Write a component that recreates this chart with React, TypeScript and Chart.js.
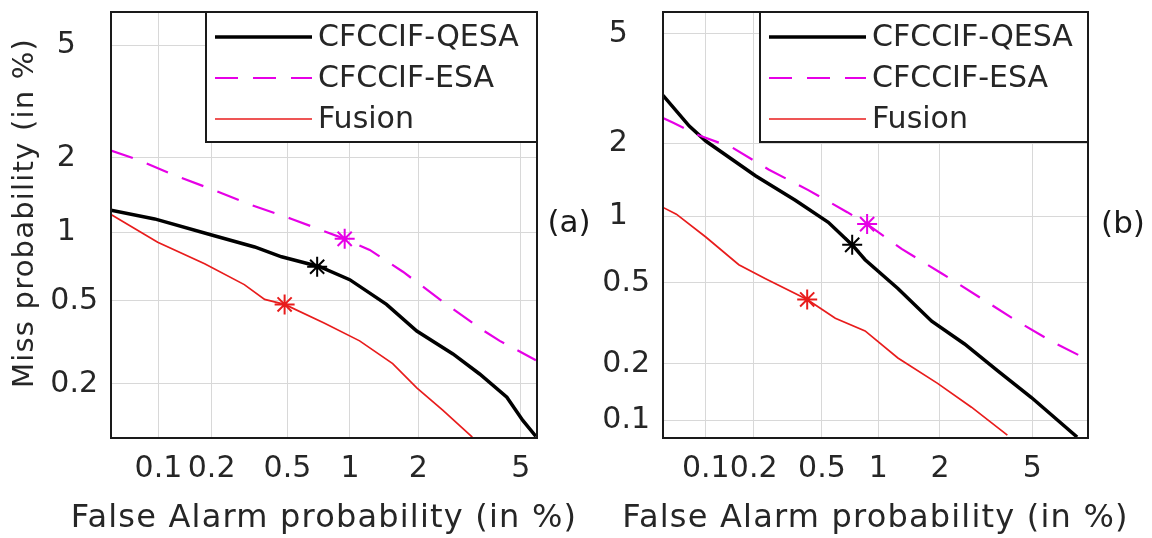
import React, { useEffect, useRef } from 'react';
import { Chart, Scale, registerables } from 'chart.js';

// ---------------- data (values in %) ----------------
const SERIES_NAMES = ['CFCCIF-QESA', 'CFCCIF-ESA', 'Fusion'];
const X_TITLE = 'False Alarm probability (in %)';
const Y_TITLE = 'Miss probability (in %)';
const X_TICKS = [0.1, 0.2, 0.5, 1, 2, 5];
const Y_TICKS_A = [0.2, 0.5, 1, 2, 5];
const Y_TICKS_B = [0.1, 0.2, 0.5, 1, 2, 5];

// panel (a)
const A_QESA_X = [0.052, 0.095, 0.2, 0.34, 0.467, 0.72, 0.997, 1.46, 1.97, 2.77, 3.52, 4.45, 5.08, 5.65];
const A_QESA_Y = [1.24, 1.14, 0.976, 0.868, 0.787, 0.712, 0.624, 0.482, 0.362, 0.281, 0.224, 0.171, 0.13, 0.107];
const A_ESA_X = [0.052, 0.075, 0.124, 0.208, 0.327, 0.525, 0.72, 0.945, 1.23, 1.72, 2.52, 3.52, 4.19, 5.65];
const A_ESA_Y = [2.13, 1.97, 1.71, 1.49, 1.3, 1.14, 1.03, 0.94, 0.843, 0.677, 0.497, 0.374, 0.325, 0.262];
const A_FUS_X = [0.052, 0.099, 0.183, 0.3, 0.383, 0.484, 0.76, 1.107, 1.554, 1.97, 2.52, 3.3];
const A_FUS_Y = [1.19, 0.91, 0.734, 0.593, 0.508, 0.482, 0.394, 0.325, 0.252, 0.191, 0.147, 0.106];
const A_STAR_X = [0.7, 0.945, 0.484];
const A_STAR_Y = [0.712, 0.94, 0.482];

// panel (b)
const B_QESA_X = [0.052, 0.078, 0.1, 0.205, 0.353, 0.542, 0.73, 0.854, 1.255, 1.83, 2.59, 3.6, 4.96, 7.4];
const B_QESA_Y = [3.04, 2.33, 2.04, 1.48, 1.17, 0.94, 0.747, 0.64, 0.47, 0.327, 0.252, 0.184, 0.133, 0.081];
const B_ESA_X = [0.052, 0.061, 0.09, 0.148, 0.246, 0.419, 0.687, 0.875, 1.31, 2.04, 3.07, 4.35, 6.09, 7.97];
const B_ESA_Y = [2.5, 2.4, 2.15, 1.92, 1.57, 1.29, 1.04, 0.923, 0.716, 0.553, 0.422, 0.327, 0.255, 0.212];
const B_FUS_X = [0.052, 0.064, 0.1, 0.162, 0.236, 0.413, 0.592, 0.854, 1.255, 1.95, 2.78, 3.96];
const B_FUS_Y = [1.09, 1.02, 0.81, 0.607, 0.523, 0.417, 0.338, 0.293, 0.214, 0.158, 0.118, 0.083];
const B_STAR_X = [0.73, 0.875, 0.413];
const B_STAR_Y = [0.747, 0.923, 0.417];

// ---------------- probit scale ----------------
function probit(p: number): number {
  p = Math.min(Math.max(p, 1e-12), 1 - 1e-12);
  const a = [-3.969683028665376e1, 2.209460984245205e2, -2.759285104469687e2, 1.38357751867269e2, -3.066479806614716e1, 2.506628277459239];
  const b = [-5.447609879822406e1, 1.615858368580409e2, -1.556989798598866e2, 6.680131188771972e1, -1.328068155288572e1];
  const c = [-7.784894002430293e-3, -3.223964580411365e-1, -2.400758277161838, -2.549732539343734, 4.374664141464968, 2.938163982698783];
  const d = [7.784695709041462e-3, 3.224671290700398e-1, 2.445134137142996, 3.754408661907416];
  const plow = 0.02425;
  if (p < plow) {
    const q = Math.sqrt(-2 * Math.log(p));
    return (((((c[0] * q + c[1]) * q + c[2]) * q + c[3]) * q + c[4]) * q + c[5]) / ((((d[0] * q + d[1]) * q + d[2]) * q + d[3]) * q + 1);
  }
  if (p <= 1 - plow) {
    const q = p - 0.5;
    const r = q * q;
    return ((((((a[0] * r + a[1]) * r + a[2]) * r + a[3]) * r + a[4]) * r + a[5]) * q) / (((((b[0] * r + b[1]) * r + b[2]) * r + b[3]) * r + b[4]) * r + 1);
  }
  const q = Math.sqrt(-2 * Math.log(1 - p));
  return -(((((c[0] * q + c[1]) * q + c[2]) * q + c[3]) * q + c[4]) * q + c[5]) / ((((d[0] * q + d[1]) * q + d[2]) * q + d[3]) * q + 1);
}
function normCdf(z: number): number {
  const x = Math.abs(z) / Math.SQRT2;
  const t = 1 / (1 + 0.3275911 * x);
  const y = 1 - ((((1.061405429 * t - 1.453152027) * t + 1.421413741) * t - 0.284496736) * t + 0.254829592) * t * Math.exp(-x * x);
  return z >= 0 ? 0.5 * (1 + y) : 0.5 * (1 - y);
}

class ProbitScale extends Scale {
  static id = 'probit';
  static defaults = {};
  _zStart = 0;
  _zRange = 1;
  parse(raw: any) {
    const v = typeof raw === 'number' ? raw : Number(raw);
    return isFinite(v) ? v : null;
  }
  determineDataLimits() {
    (this as any).min = (this as any).options.min;
    (this as any).max = (this as any).options.max;
  }
  buildTicks() {
    return [];
  }
  configure() {
    super.configure();
    this._zStart = probit((this as any).min / 100);
    this._zRange = probit((this as any).max / 100) - this._zStart;
  }
  getLabelForValue(v: number) {
    return String(v);
  }
  getPixelForValue(v: number) {
    return (this as any).getPixelForDecimal((probit(v / 100) - this._zStart) / this._zRange);
  }
  getValueForPixel(px: number) {
    const dec = (this as any).getDecimalForPixel(px);
    return 100 * normCdf(this._zStart + dec * this._zRange);
  }
}

Chart.register(...registerables, ProbitScale as any);

// ---------------- drawing ----------------
const TEXT = '#262626';
const GRID = '#d8d8d8';
const FAMILY = "'DejaVu Sans', sans-serif";
const COLORS = ['#000000', 'rgb(230,0,230)', 'rgb(232,28,28)'];
const WIDTHS = [3.5, 2.2, 1.7];
const DASHES: number[][] = [[], [23, 15], []];

const decorPlugin = {
  id: 'decor',
  afterDraw(chart: any, _args: any, opts: any) {
    const { ctx } = chart;
    const { left, top, right, bottom } = chart.chartArea;
    ctx.save();
    ctx.strokeStyle = '#1a1a1a';
    ctx.lineWidth = 2;
    ctx.strokeRect(left, top, right - left, bottom - top);
    // legend box
    const bw = opts.legendWidth;
    const bx = right - bw;
    const by = top;
    const bh = 130;
    ctx.fillStyle = '#ffffff';
    ctx.fillRect(bx, by, bw, bh);
    ctx.strokeRect(bx, by, bw, bh);
    const lines = chart.data.datasets.filter((ds: any) => ds.showLine);
    lines.forEach((ds: any, i: number) => {
      const y = by + 25 + i * 41;
      ctx.beginPath();
      ctx.setLineDash(ds.borderDash || []);
      ctx.lineWidth = ds.borderWidth;
      ctx.strokeStyle = ds.borderColor;
      ctx.moveTo(bx + 9, y);
      ctx.lineTo(bx + 106, y);
      ctx.stroke();
      ctx.setLineDash([]);
      ctx.fillStyle = TEXT;
      ctx.font = `30px ${FAMILY}`;
      ctx.textBaseline = 'middle';
      ctx.textAlign = 'left';
      ctx.fillText(ds.label, bx + 112, y + 1);
    });
    // axis titles
    ctx.fillStyle = TEXT;
    ctx.textAlign = 'center';
    ctx.textBaseline = 'alphabetic';
    ctx.font = `32px ${FAMILY}`;
    (ctx as any).letterSpacing = '1.2px';
    ctx.fillText(X_TITLE, (left + right) / 2, 527);
    if (opts.yTitle) {
      ctx.save();
      ctx.translate(25, 213);
      ctx.rotate(-Math.PI / 2);
      ctx.textBaseline = 'middle';
      ctx.font = `29px ${FAMILY}`;
      (ctx as any).letterSpacing = '1.2px';
      ctx.fillText(Y_TITLE, 0, 0);
      ctx.restore();
    }
    (ctx as any).letterSpacing = '0px';
    // panel label
    ctx.fillStyle = '#1a1a1a';
    ctx.font = `31px ${FAMILY}`;
    ctx.textAlign = 'center';
    ctx.textBaseline = 'middle';
    ctx.fillText(opts.panel, opts.panelX, opts.panelY);
    ctx.restore();
  },
};

type PanelCfg = {
  width: number;
  series: [number[], number[]][];
  stars: [number[], number[]];
  yTicks: number[];
  xMin: number;
  xMax: number;
  yMin: number;
  yMax: number;
  yAxisWidth: number;
  padRight: number;
  yTitle: boolean;
  legendWidth: number;
  panel: string;
  panelX: number;
  panelY: number;
};

function buildChart(canvas: HTMLCanvasElement, p: PanelCfg) {
  const datasets: any[] = p.series.map(([xs, ys], i) => ({
    label: SERIES_NAMES[i],
    data: xs.map((x, k) => ({ x, y: ys[k] })),
    showLine: true,
    borderColor: COLORS[i],
    backgroundColor: COLORS[i],
    borderWidth: WIDTHS[i],
    borderDash: DASHES[i],
    pointRadius: 0,
    pointHoverRadius: 0,
    fill: false,
    tension: 0,
    order: 3 - i,
  }));
  p.stars[0].forEach((x, i) => {
    datasets.push({
      label: SERIES_NAMES[i] + ' point',
      data: [{ x, y: p.stars[1][i] }],
      showLine: false,
      pointStyle: 'star',
      pointRadius: 10,
      pointHoverRadius: 10,
      borderColor: COLORS[i],
      backgroundColor: COLORS[i],
      pointBorderColor: COLORS[i],
      pointBorderWidth: 2,
      borderWidth: 2,
      order: 0,
    });
  });

  const tickFont = { family: FAMILY, size: 30 };
  return new Chart(canvas, {
    type: 'scatter',
    data: { datasets },
    plugins: [decorPlugin as any],
    options: {
      animation: false,
      responsive: false,
      maintainAspectRatio: false,
      events: [],
      layout: { padding: { left: 0, top: 8, right: p.padRight, bottom: 0 } },
      plugins: {
        legend: { display: false },
        tooltip: { enabled: false },
        decor: { legendWidth: p.legendWidth, panel: p.panel, panelX: p.panelX, panelY: p.panelY, yTitle: p.yTitle },
      } as any,
      scales: {
        x: {
          type: 'probit' as any,
          min: p.xMin,
          max: p.xMax,
          afterBuildTicks: (s: any) => {
            s.ticks = X_TICKS.map((v) => ({ value: v }));
          },
          afterFit: (s: any) => {
            s.height = 100;
            s.paddingLeft = 0;
            s.paddingRight = 0;
          },
          grid: { color: GRID, lineWidth: 1, drawTicks: false },
          border: { display: false },
          ticks: {
            autoSkip: false,
            maxRotation: 0,
            minRotation: 0,
            padding: 13,
            color: TEXT,
            font: tickFont,
            callback: (v: any) => String(v),
          },
          title: { display: false },
        } as any,
        y: {
          type: 'probit' as any,
          min: p.yMin,
          max: p.yMax,
          afterBuildTicks: (s: any) => {
            s.ticks = p.yTicks.map((v) => ({ value: v }));
          },
          afterFit: (s: any) => {
            s.width = p.yAxisWidth;
            s.paddingTop = 0;
            s.paddingBottom = 0;
          },
          grid: { color: GRID, lineWidth: 1, drawTicks: false },
          border: { display: false },
          ticks: {
            autoSkip: false,
            padding: 13,
            color: TEXT,
            font: tickFont,
            callback: (v: any) => (v >= 1 ? `${v}\u2007\u200A` : String(v)),
          },
          title: { display: false },
        } as any,
      },
    },
  });
}

const PANEL_A: PanelCfg = {
  width: 598,
  series: [
    [A_QESA_X, A_QESA_Y],
    [A_ESA_X, A_ESA_Y],
    [A_FUS_X, A_FUS_Y],
  ],
  stars: [A_STAR_X, A_STAR_Y],
  yTicks: Y_TICKS_A,
  xMin: 0.052,
  xMax: 5.7,
  yMin: 0.105,
  yMax: 6.4,
  yAxisWidth: 111,
  padRight: 61,
  yTitle: true,
  legendWidth: 331,
  panel: '(a)',
  panelX: 569,
  panelY: 224,
};

const PANEL_B: PanelCfg = {
  width: 554,
  series: [
    [B_QESA_X, B_QESA_Y],
    [B_ESA_X, B_ESA_Y],
    [B_FUS_X, B_FUS_Y],
  ],
  stars: [B_STAR_X, B_STAR_Y],
  yTicks: Y_TICKS_B,
  xMin: 0.052,
  xMax: 8.1,
  yMin: 0.08,
  yMax: 5.9,
  yAxisWidth: 65,
  padRight: 64,
  yTitle: false,
  legendWidth: 328,
  panel: '(b)',
  panelX: 525,
  panelY: 225,
};

function DetPanel({ cfg, left }: { cfg: PanelCfg; left: number }) {
  const ref = useRef<HTMLCanvasElement | null>(null);
  useEffect(() => {
    if (!ref.current) return;
    const chart = buildChart(ref.current, cfg);
    return () => chart.destroy();
  }, [cfg]);
  return (
    <canvas
      ref={ref}
      width={cfg.width}
      height={538}
      style={{ position: 'absolute', left, top: 0, width: cfg.width, height: 538, display: 'block' }}
    />
  );
}

export default function App() {
  return (
    <div style={{ position: 'absolute', left: 0, top: 0, width: 1152, height: 538, background: '#ffffff', overflow: 'hidden' }}>
      <DetPanel cfg={PANEL_A} left={0} />
      <DetPanel cfg={PANEL_B} left={598} />
    </div>
  );
}
